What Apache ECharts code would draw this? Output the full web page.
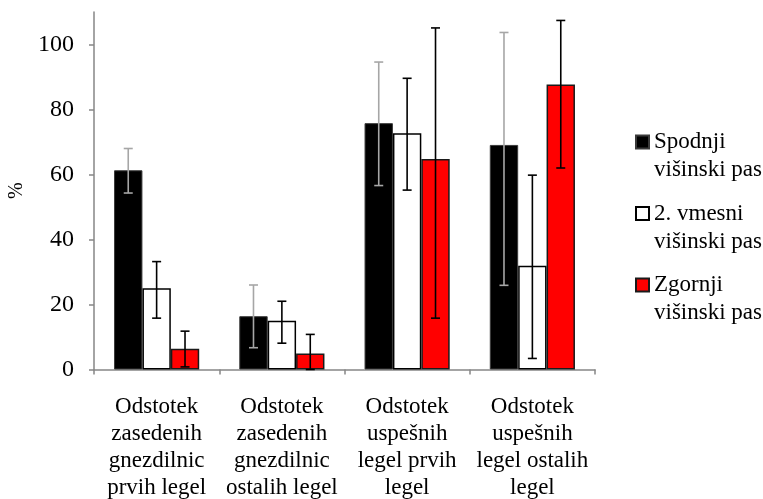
<!DOCTYPE html>
<html>
<head>
<meta charset="utf-8">
<title>Gnezdilnice po višinskih pasovih</title>
<script src="https://cdn.jsdelivr.net/npm/echarts@6/dist/echarts.min.js"></script>
<style>
  html, body { margin: 0; padding: 0; background: #ffffff; }
  #chart { width: 763px; height: 499px; }
</style>
</head>
<body>
<div id="chart"></div>
<script>
// Categories (x axis)
const categories = [
  'Odstotek\nzasedenih\ngnezdilnic\nprvih legel',
  'Odstotek\nzasedenih\ngnezdilnic\nostalih legel',
  'Odstotek\nuspešnih\nlegel prvih\nlegel',
  'Odstotek\nuspešnih\nlegel ostalih\nlegel'
];

// Series names
const seriesNames = ['Spodnji\nvišinski pas', '2. vmesni\nvišinski pas', 'Zgornji\nvišinski pas'];

// Mean values (%)
const spodnji = [61.3, 16.4, 75.8, 69.1];
const vmesni  = [25.0, 15.0, 72.7, 31.9];
const zgornji = [6.4, 4.9, 64.8, 87.7];

// Error bar bounds (%)
const spodnjiLow  = [54.3, 6.7, 56.6, 25.9];
const spodnjiHigh = [68.0, 26.0, 94.6, 103.7];
const vmesniLow   = [15.8, 8.1, 55.2, 3.4];
const vmesniHigh  = [33.2, 21.0, 89.6, 59.8];
const zgornjiLow  = [0.8, 0.0, 15.8, 62.0];
const zgornjiHigh = [11.8, 10.8, 105.1, 107.4];

// Y axis ticks
const yTicks = [0, 20, 40, 60, 80, 100];

const FONT = "'Liberation Serif', 'Times New Roman', serif";
const AXIS_GRAY = '#868686';
const CATEGORY_GAP = 0.32;
const BAR_COUNT = 3;

const barStyles = [
  { color: '#000000', borderColor: '#3a3a3a', borderWidth: 1 },
  { color: '#ffffff', borderColor: '#000000', borderWidth: 1.5 },
  { color: '#ff0000', borderColor: '#1a1a1a', borderWidth: 1.5 }
];
const errorColors = ['#a6a6a6', '#000000', '#000000'];

const values = [spodnji, vmesni, zgornji];
const lows = [spodnjiLow, vmesniLow, zgornjiLow];
const highs = [spodnjiHigh, vmesniHigh, zgornjiHigh];

function errorRenderer(barIndex) {
  return function (params, api) {
    const cat = api.value(0);
    const lowPt = api.coord([cat, api.value(1)]);
    const highPt = api.coord([cat, api.value(2)]);
    const band = api.size([1, 0])[0];
    const barW = band * (1 - CATEGORY_GAP) / BAR_COUNT;
    const x = lowPt[0] + (barIndex - (BAR_COUNT - 1) / 2) * barW;
    const capHalf = 4.5;
    const style = { stroke: errorColors[barIndex], lineWidth: 1.6 };
    return {
      type: 'group',
      children: [
        { type: 'line', shape: { x1: x, y1: highPt[1], x2: x, y2: lowPt[1] }, style: style },
        { type: 'line', shape: { x1: x - capHalf, y1: highPt[1], x2: x + capHalf, y2: highPt[1] }, style: style },
        { type: 'line', shape: { x1: x - capHalf, y1: lowPt[1], x2: x + capHalf, y2: lowPt[1] }, style: style }
      ]
    };
  };
}

const series = [];
values.forEach(function (vals, i) {
  series.push({
    name: seriesNames[i],
    type: 'bar',
    data: vals,
    barGap: '0%',
    barCategoryGap: (CATEGORY_GAP * 100) + '%',
    itemStyle: barStyles[i],
    emphasis: { disabled: true },
    z: 2
  });
});
values.forEach(function (vals, i) {
  series.push({
    id: 'err' + i,
    type: 'custom',
    renderItem: errorRenderer(i),
    data: vals.map(function (_, k) { return [k, lows[i][k], highs[i][k]]; }),
    encode: { x: 0, y: [1, 2] },
    silent: true,
    z: 5
  });
});

const chart = echarts.init(document.getElementById('chart'), null, { renderer: 'canvas' });
chart.setOption({
  animation: false,
  backgroundColor: '#ffffff',
  textStyle: { fontFamily: FONT },
  grid: { left: 94, right: 168, top: 12, bottom: 129.5, containLabel: false, outerBoundsMode: 'none' },
  legend: {
    data: seriesNames,
    orient: 'vertical',
    left: 635,
    top: 100,
    padding: 0,
    itemWidth: 13,
    itemHeight: 13,
    itemGap: -12.5,
    icon: 'rect',
    selectedMode: false,
    // leading blank line keeps the first text line level with the icon
    formatter: function (name) { return '\n' + name; },
    textStyle: {
      fontFamily: FONT,
      fontSize: 23,
      lineHeight: 28,
      color: '#000000'
    }
  },
  xAxis: {
    type: 'category',
    data: categories,
    axisLine: { lineStyle: { color: AXIS_GRAY, width: 1.5 } },
    axisTick: { show: true, length: 5, lineStyle: { color: AXIS_GRAY, width: 1.5 } },
    axisLabel: {
      interval: 0,
      margin: 24,
      fontFamily: FONT,
      fontSize: 23,
      lineHeight: 27,
      color: '#000000',
      align: 'center'
    },
    splitLine: { show: false }
  },
  yAxis: {
    type: 'value',
    min: 0,
    max: 110,
    interval: 20,
    name: '%',
    nameLocation: 'middle',
    nameRotate: 90,
    nameGap: 58,
    nameTextStyle: { fontFamily: FONT, fontSize: 20, color: '#000000' },
    axisLine: { show: true, lineStyle: { color: AXIS_GRAY, width: 1.5 } },
    axisTick: { show: true, length: 5, customValues: yTicks, lineStyle: { color: AXIS_GRAY, width: 1.5 } },
    axisLabel: {
      margin: 20,
      customValues: yTicks,
      fontFamily: FONT,
      fontSize: 24,
      color: '#000000'
    },
    splitLine: { show: false }
  },
  series: series
});
</script>
</body>
</html>
